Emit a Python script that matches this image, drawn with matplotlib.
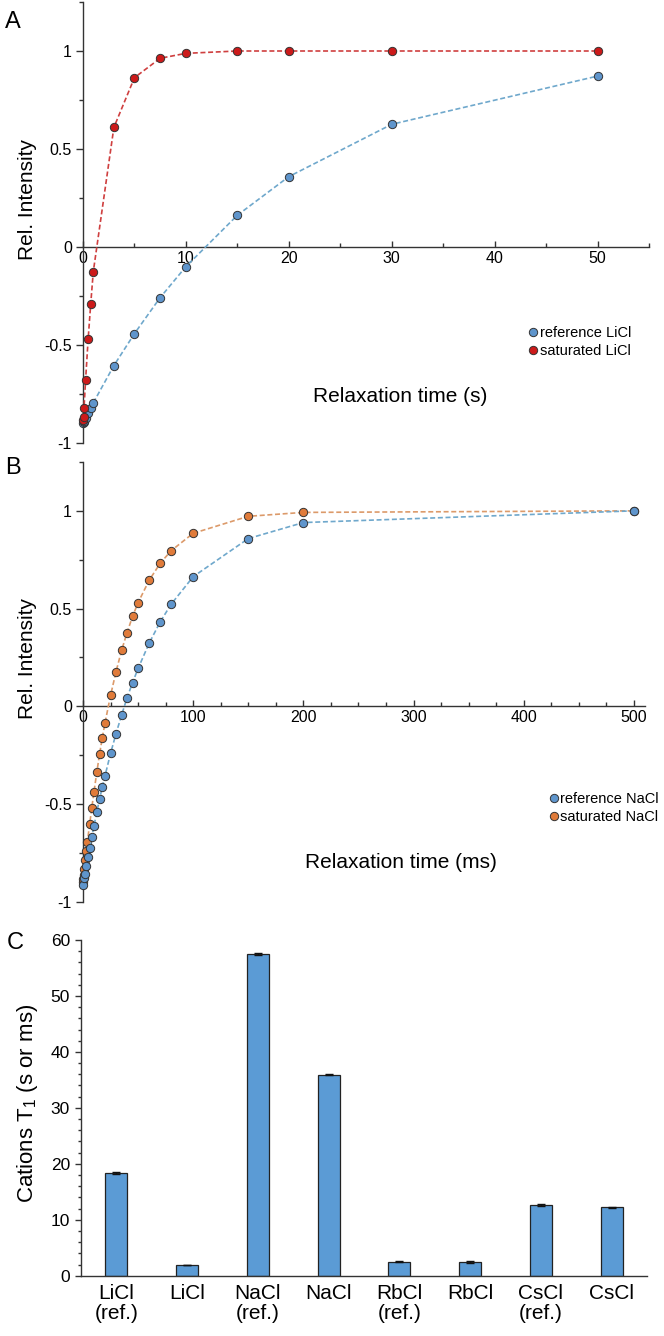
import matplotlib
matplotlib.use('Agg')
import matplotlib.pyplot as plt
from matplotlib.ticker import MultipleLocator
from matplotlib.lines import Line2D

plt.rcParams['font.family'] = ['Liberation Sans', 'DejaVu Sans']
NARROW = ['Liberation Sans Narrow', 'Liberation Sans', 'DejaVu Sans']

# ---------------- Panel A data (LiCl, seconds) ----------------
a_ref_t = [0.01, 0.05, 0.1, 0.25, 0.5, 0.75, 1, 3, 5, 7.5, 10, 15, 20, 30, 50]
a_ref_y = [-0.90, -0.895, -0.89, -0.87, -0.845, -0.82, -0.795, -0.605, -0.442,
           -0.258, -0.10, 0.162, 0.359, 0.626, 0.872]
a_sat_t = [0.01, 0.05, 0.1, 0.25, 0.5, 0.75, 1, 3, 5, 7.5, 10, 15, 20, 30, 50]
a_sat_y = [-0.885, -0.865, -0.82, -0.68, -0.47, -0.29, -0.126, 0.61, 0.864,
           0.963, 0.988, 1.0, 1.0, 1.0, 1.0]

# ---------------- Panel B data (NaCl, ms) ----------------
b_ref_t = [0, 1, 2, 3, 4.5, 6, 8, 10, 12.5, 15, 17.5, 20, 25, 30, 35, 40, 45,
           50, 60, 70, 80, 100, 150, 200, 500]
b_ref_y = [-0.915, -0.88, -0.86, -0.82, -0.774, -0.728, -0.672, -0.612, -0.542,
           -0.477, -0.413, -0.356, -0.242, -0.14, -0.046, 0.043, 0.121, 0.193,
           0.322, 0.431, 0.522, 0.663, 0.858, 0.940, 1.0]
b_sat_t = [0, 0.25, 0.5, 1, 2, 3, 4, 6, 8, 10, 12.5, 15, 17.5, 20, 25, 30, 35,
           40, 45, 50, 60, 70, 80, 100, 150, 200, 500]
b_sat_y = [-0.90, -0.885, -0.865, -0.835, -0.788, -0.742, -0.694, -0.605, -0.52,
           -0.437, -0.339, -0.247, -0.162, -0.085, 0.055, 0.177, 0.285, 0.377,
           0.460, 0.530, 0.644, 0.731, 0.796, 0.885, 0.972, 0.992, 1.0]

# ---------------- Panel C data ----------------
salts = ['LiCl\n(ref.)', 'LiCl', 'NaCl\n(ref.)', 'NaCl', 'RbCl\n(ref.)', 'RbCl',
         'CsCl\n(ref.)', 'CsCl']
t1 = [18.4, 1.9, 57.5, 35.9, 2.5, 2.45, 12.6, 12.2]
t1_err = [0.2, 0.05, 0.2, 0.1, 0.1, 0.1, 0.2, 0.1]

BLUE_M = '#5f95cc'
BLUE_L = '#6fa8cc'
RED_M = '#cc1a1a'
RED_L = '#cf3f3f'
ORA_M = '#e07b3a'
ORA_L = '#dc9a6a'
EDGE = '#333333'
SPINE = '#333333'

W, H = 664, 1336
fig = plt.figure(figsize=(W / 100, H / 100), dpi=100)


def px_axes(left, right, top, bottom):
    return fig.add_axes([left / W, 1 - bottom / H, (right - left) / W, (bottom - top) / H])


def style_curve_axes(ax, xmax, xmajor, xminor):
    ax.set_ylim(-1, 1.25)
    ax.set_xlim(0, xmax)
    for s in ['top', 'right']:
        ax.spines[s].set_visible(False)
    ax.spines['bottom'].set_position(('data', 0))
    ax.spines['left'].set_bounds(-1, 1.25)
    for s in ['left', 'bottom']:
        ax.spines[s].set_color(SPINE)
        ax.spines[s].set_linewidth(1.0)
    ax.yaxis.set_minor_locator(MultipleLocator(0.25))
    ax.set_yticks([-1, -0.5, 0, 0.5, 1])
    ax.set_yticklabels(['-1', '-0.5', '0', '0.5', '1'])
    ax.xaxis.set_major_locator(MultipleLocator(xmajor))
    ax.xaxis.set_minor_locator(MultipleLocator(xminor))
    ax.tick_params(axis='y', which='major', direction='out', length=5, width=1,
                   labelsize=11.5, color=SPINE, pad=3)
    ax.tick_params(axis='y', which='minor', direction='out', length=3, width=1, color=SPINE)
    ax.tick_params(axis='x', which='major', direction='in', length=4, width=1,
                   labelsize=11.5, color=SPINE, pad=3)
    ax.tick_params(axis='x', which='minor', direction='in', length=3, width=1, color=SPINE)
    ax.patch.set_alpha(0)


def series(ax, t, y, mc, lc, z):
    ax.plot(t, y, linestyle=(0, (3, 1.6)), color=lc, linewidth=1.2, zorder=z,
            marker='o', markersize=6, markerfacecolor=mc, markeredgecolor=EDGE,
            markeredgewidth=0.7, clip_on=False)


def legend_handles(colors):
    return [Line2D([], [], linestyle='none', marker='o', markersize=6, markerfacecolor=c,
                   markeredgecolor=EDGE, markeredgewidth=0.7) for c in colors]


# ---------------- Panel A ----------------
axA = px_axes(83, 649, 2, 443)
style_curve_axes(axA, 55, 10, 5)
series(axA, a_ref_t, a_ref_y, BLUE_M, BLUE_L, 3)
series(axA, a_sat_t, a_sat_y, RED_M, RED_L, 4)
fig.text(400 / W, 1 - 397 / H, 'Relaxation time (s)', fontsize=15, ha='center', va='center')
fig.text(28 / W, 1 - 200 / H, 'Rel. Intensity', fontsize=15, ha='center', va='center',
         rotation=90)
fig.text(13 / W, 1 - 22 / H, 'A', fontsize=17, ha='center', va='center')
fig.legend(legend_handles([BLUE_M, RED_M]), ['reference LiCl', 'saturated LiCl'],
           loc='upper left', bbox_to_anchor=(522 / W, 1 - 319 / H), frameon=False,
           fontsize=10.5, handlelength=0.5, handletextpad=0.2, borderpad=0,
           labelspacing=0.25)

# ---------------- Panel B ----------------
axB = px_axes(83, 645, 462, 901.5)
style_curve_axes(axB, 510, 100, 25)
series(axB, b_sat_t, b_sat_y, ORA_M, ORA_L, 3)
series(axB, b_ref_t, b_ref_y, BLUE_M, BLUE_L, 4)
fig.text(401 / W, 1 - 863 / H, 'Relaxation time (ms)', fontsize=15, ha='center', va='center')
fig.text(28 / W, 1 - 658 / H, 'Rel. Intensity', fontsize=15, ha='center', va='center',
         rotation=90)
fig.text(13 / W, 1 - 468 / H, 'B', fontsize=17, ha='center', va='center')
fig.legend(legend_handles([BLUE_M, ORA_M]), ['reference NaCl', 'saturated NaCl'],
           loc='upper left', bbox_to_anchor=(543 / W, 1 - 785 / H), frameon=False,
           fontsize=10.5, handlelength=0.5, handletextpad=0.2, borderpad=0,
           labelspacing=0.25)

# ---------------- Panel C ----------------
axC = px_axes(81, 647, 940, 1275.7)
xs = list(range(len(salts)))
axC.bar(xs, t1, width=0.31, color='#5b9bd5', edgecolor='#222222', linewidth=0.9,
        yerr=t1_err, capsize=3, error_kw=dict(ecolor='#111111', elinewidth=1, capthick=1))
axC.set_xlim(-0.5, 7.5)
axC.set_ylim(0, 60)
for s in ['top', 'right']:
    axC.spines[s].set_visible(False)
for s in ['left', 'bottom']:
    axC.spines[s].set_color(SPINE)
    axC.spines[s].set_linewidth(1.0)
axC.set_xticks(xs)
axC.set_xticklabels(salts, family=NARROW, fontsize=15, linespacing=1.05)
axC.yaxis.set_major_locator(MultipleLocator(10))
axC.yaxis.set_minor_locator(MultipleLocator(2))
axC.tick_params(axis='x', length=0, pad=6)
axC.tick_params(axis='y', which='major', direction='out', length=4, width=1, color=SPINE,
                labelsize=12.5, pad=4)
axC.tick_params(axis='y', which='minor', direction='out', length=2.5, width=1, color=SPINE)
for lab in axC.get_yticklabels():
    lab.set_family(NARROW)
fig.text(28 / W, 1 - 1103 / H, r'Cations T$_\mathregular{1}$ (s or ms)', fontsize=16,
         ha='center', va='center', rotation=90, family=NARROW)
fig.text(15 / W, 1 - 943 / H, 'C', fontsize=17, ha='center', va='center')

fig.savefig('out.png', dpi=100)
